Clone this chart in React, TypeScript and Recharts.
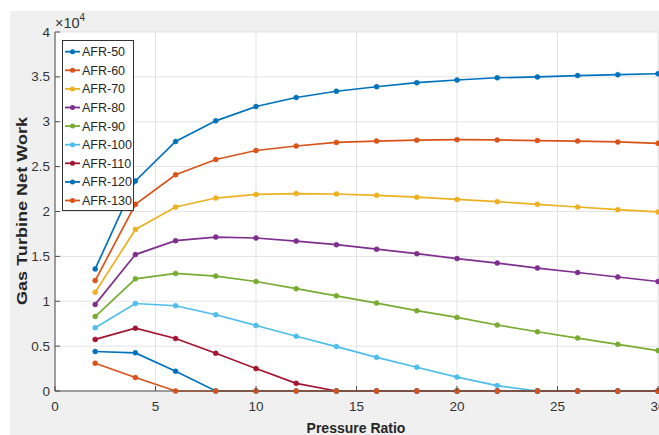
import { LineChart, Line, XAxis, YAxis, CartesianGrid } from "recharts";

const pressureRatio = [2, 4, 6, 8, 10, 12, 14, 16, 18, 20, 22, 24, 26, 28, 30];

const afr50 = [13600, 23400, 27800, 30100, 31700, 32700, 33400, 33900, 34350, 34650, 34900, 35000, 35150, 35250, 35350];
const afr60 = [12300, 20800, 24100, 25800, 26800, 27300, 27700, 27850, 27950, 28000, 27970, 27900, 27850, 27750, 27600];
const afr70 = [11000, 18000, 20500, 21500, 21900, 22000, 21950, 21800, 21600, 21350, 21100, 20800, 20500, 20200, 19950];
const afr80 = [9650, 15200, 16750, 17150, 17050, 16700, 16300, 15800, 15300, 14750, 14250, 13700, 13200, 12700, 12200];
const afr90 = [8300, 12500, 13100, 12800, 12200, 11400, 10600, 9800, 8950, 8200, 7350, 6600, 5900, 5200, 4500];
const afr100 = [7050, 9750, 9500, 8500, 7300, 6100, 4950, 3750, 2650, 1550, 600, 0, 0, 0, 0];
const afr110 = [5750, 7000, 5850, 4200, 2500, 850, 0, 0, 0, 0, 0, 0, 0, 0, 0];
const afr120 = [4400, 4250, 2200, 0, 0, 0, 0, 0, 0, 0, 0, 0, 0, 0, 0];
const afr130 = [3100, 1500, 0, 0, 0, 0, 0, 0, 0, 0, 0, 0, 0, 0, 0];

const seriesNames = ["AFR-50", "AFR-60", "AFR-70", "AFR-80", "AFR-90", "AFR-100", "AFR-110", "AFR-120", "AFR-130"];
const seriesValues = [afr50, afr60, afr70, afr80, afr90, afr100, afr110, afr120, afr130];
const colors = ["#0072BD", "#D95319", "#EDB120", "#7E2F8E", "#77AC30", "#4DBEEE", "#A2142F", "#0072BD", "#D95319"];

const xTicks = [0, 5, 10, 15, 20, 25, 30];
const yTicks = [0, 5000, 10000, 15000, 20000, 25000, 30000, 35000, 40000];

const data = pressureRatio.map((pr, i) => {
  const row: Record<string, number> = { pr };
  seriesNames.forEach((name, s) => {
    row[name] = seriesValues[s][i];
  });
  return row;
});

const FONT = "'Liberation Sans', Arial, Helvetica, sans-serif";
const AXIS = "#4d4d4d";

const XTick = ({ x, y, payload }: any) => (
  <g>
    <line x1={x} x2={x} y1={y} y2={y - 5} stroke={AXIS} />
    <text x={x} y={y} dy={20} textAnchor="middle" fontSize={13.5} fill="#333" fontFamily={FONT}>
      {payload.value}
    </text>
  </g>
);

const YTick = ({ x, y, payload }: any) => (
  <g>
    <line x1={x} x2={x + 5} y1={y} y2={y} stroke={AXIS} />
    <text x={x - 5} y={y} dy={4.5} textAnchor="end" fontSize={13.5} fill="#333" fontFamily={FONT}>
      {payload.value / 10000}
    </text>
  </g>
);

const YTitle = () => (
  <text
    x={27}
    y={211}
    transform="rotate(-90 27 211)"
    textAnchor="middle"
    fontSize={15}
    fontWeight="bold"
    fill="#262626"
    fontFamily={FONT}
    textLength={188}
    lengthAdjust="spacingAndGlyphs"
  >
    Gas Turbine Net Work
  </text>
);

const XTitle = () => (
  <text x={356} y={433} textAnchor="middle" fontSize={14} fontWeight="bold" fill="#262626" fontFamily={FONT}>
    Pressure Ratio
  </text>
);

function LegendBox() {
  return (
    <svg width={72} height={171} style={{ position: "absolute", left: 62, top: 40 }}>
      <rect x={0.5} y={0.5} width={71} height={170} fill="#fff" stroke="#333" strokeWidth={1} />
      {seriesNames.map((name, i) => {
        const cy = 11.7 + i * 18.6;
        return (
          <g key={name}>
            <line x1={3} x2={18} y1={cy} y2={cy} stroke={colors[i]} strokeWidth={1.8} />
            <circle cx={10.5} cy={cy} r={2.5} fill={colors[i]} />
            <text x={20} y={cy} dy={4.5} fontSize={12.5} fill="#262626" fontFamily={FONT}>
              {name}
            </text>
          </g>
        );
      })}
    </svg>
  );
}

export default function App() {
  return (
    <div style={{ position: "absolute", left: 0, top: 0, width: 659, height: 435, background: "#fff", overflow: "hidden" }}>
      <div style={{ position: "absolute", left: 10, top: 11, right: 0, bottom: 0, background: "#F0F0F0" }} />
      <div style={{ position: "absolute", left: 0, top: 0 }}>
        <LineChart width={659} height={435} data={data} margin={{ top: 32, right: 1, bottom: 0, left: 10 }}>
          <CartesianGrid fill="#fff" stroke="#E3E3E3" />
          <XAxis
            dataKey="pr"
            type="number"
            domain={[0, 30]}
            ticks={xTicks}
            height={44}
            axisLine={{ stroke: AXIS }}
            tickLine={false}
            tickSize={0}
            tickMargin={0}
            tick={<XTick />}
            label={<XTitle />}
            interval={0}
          />
          <YAxis
            type="number"
            domain={[0, 40000]}
            ticks={yTicks}
            width={45}
            axisLine={{ stroke: AXIS }}
            tickLine={false}
            tickSize={0}
            tickMargin={0}
            tick={<YTick />}
            label={<YTitle />}
            interval={0}
          />
          {seriesNames.map((name, i) => (
            <Line
              key={name}
              dataKey={name}
              stroke={colors[i]}
              strokeWidth={1.7}
              dot={{ r: 2.5, fill: colors[i], stroke: colors[i], strokeWidth: 0.5 }}
              isAnimationActive={false}
            />
          ))}
        </LineChart>
      </div>
      <svg width={120} height={32} style={{ position: "absolute", left: 0, top: 0 }}>
        <text x={55} y={27.5} fontSize={14.5} fill="#333" fontFamily={FONT}>
          ×10
          <tspan fontSize={10} dy={-7}>4</tspan>
        </text>
      </svg>
      <LegendBox />
    </div>
  );
}
